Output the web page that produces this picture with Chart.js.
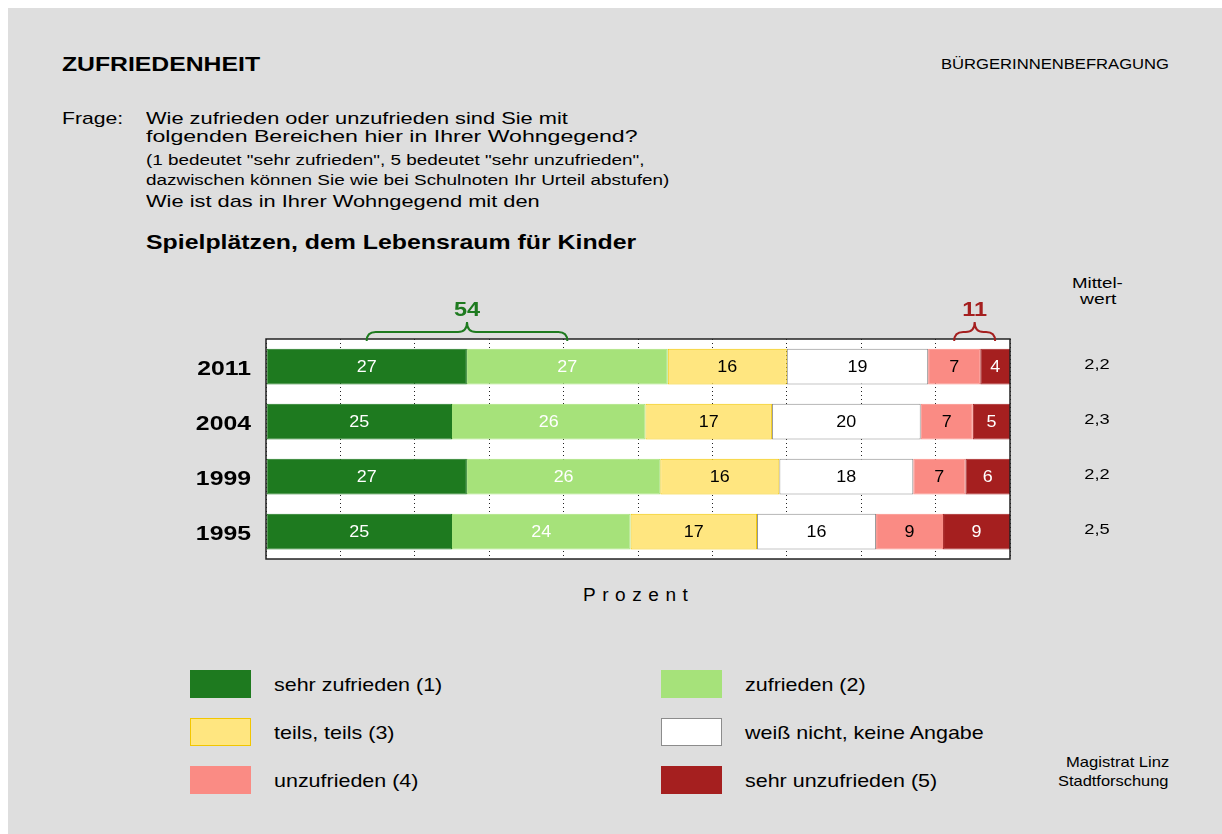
<!DOCTYPE html>
<html>
<head>
<meta charset="utf-8">
<script src="https://cdn.jsdelivr.net/npm/chart.js@4"></script>
<style>
  body { margin: 0; background: #fff; font-family: "Liberation Sans", Arial, sans-serif; color: #000; }
  #panel { position: absolute; left: 8px; top: 8px; width: 1214px; height: 826px; background: #dedede; }
  #wrap { position: absolute; left: 0; top: 0; width: 1222px; height: 834px; }
  .t { position: absolute; white-space: nowrap; line-height: 1; transform-origin: 0 0; }
  .box { position: absolute; width: 61px; height: 28px; box-sizing: border-box; }
</style>
</head>
<body>
<div id="panel"></div>
<!-- data-w: width of the text in the reference, text is stretched to it -->
<div class="t" data-w="198" style="left:62px;top:53px;font-size:21px;font-weight:bold">ZUFRIEDENHEIT</div>
<div class="t" data-w="228" style="left:941px;top:57px;font-size:14.5px">BÜRGERINNENBEFRAGUNG</div>
<div class="t" data-w="61" style="left:62px;top:110px;font-size:17px">Frage:</div>
<div class="t" data-w="422" style="left:146px;top:110px;font-size:17px">Wie zufrieden oder unzufrieden sind Sie mit</div>
<div class="t" data-w="492" style="left:146px;top:128px;font-size:17px">folgenden Bereichen hier in Ihrer Wohngegend?</div>
<div class="t" data-w="498" style="left:146px;top:153px;font-size:14px">(1 bedeutet "sehr zufrieden", 5 bedeutet "sehr unzufrieden",</div>
<div class="t" data-w="524" style="left:146px;top:173px;font-size:14px">dazwischen können Sie wie bei Schulnoten Ihr Urteil abstufen)</div>
<div class="t" data-w="394" style="left:146px;top:193px;font-size:17px">Wie ist das in Ihrer Wohngegend mit den</div>
<div class="t" data-w="490" style="left:146px;top:231px;font-size:21px;font-weight:bold">Spielplätzen, dem Lebensraum für Kinder</div>
<div class="t" data-w="51" style="left:1072px;top:275px;font-size:15px">Mittel-</div>
<div class="t" data-w="36" style="left:1080px;top:291px;font-size:15px">wert</div>
<div class="t" data-w="111" style="left:583px;top:587px;font-size:17.5px;letter-spacing:6px">Prozent</div>
<div class="t" data-w="103" style="left:1066px;top:755px;font-size:14.5px">Magistrat Linz</div>
<div class="t" data-w="111" style="left:1058px;top:774px;font-size:14.5px">Stadtforschung</div>
<div id="legend"></div>
<div id="wrap"><canvas id="chart" width="1222" height="834"></canvas></div>
<script>
const years = ['2011', '2004', '1999', '1995']
const sehrZufrieden = [27, 25, 27, 25]
const zufrieden = [27, 26, 26, 24]
const teilsTeils = [16, 17, 16, 17]
const weissNicht = [19, 20, 18, 16]
const unzufrieden = [7, 7, 7, 9]
const sehrUnzufrieden = [4, 5, 6, 9]
const mittelwert = ['2,2', '2,3', '2,2', '2,5']

const FONT = '"Liberation Sans", Arial, sans-serif'
const GREEN = '#1e7a1f'
const RED = '#a51f1f'
const STRETCH = 1.18 // the reference type is drawn a bit wide

const series = [
    { label: 'sehr zufrieden (1)', data: sehrZufrieden, bg: GREEN, border: GREEN, text: '#fff' },
    { label: 'zufrieden (2)', data: zufrieden, bg: '#a6e27a', border: '#a6e27a', text: '#fff' },
    { label: 'teils, teils (3)', data: teilsTeils, bg: '#ffe680', border: '#f2c600', text: '#000' },
    { label: 'weiß nicht, keine Angabe', data: weissNicht, bg: '#ffffff', border: '#8c8c8c', text: '#000' },
    { label: 'unzufrieden (4)', data: unzufrieden, bg: '#fa8b84', border: '#fa8b84', text: '#000' },
    { label: 'sehr unzufrieden (5)', data: sehrUnzufrieden, bg: RED, border: RED, text: '#fff' },
]

// legend, two columns, filled row by row
const legend = document.getElementById('legend')
series.forEach((s, i) => {
    const col = i % 2
    const row = Math.floor(i / 2)
    const top = 670 + row * 48
    const box = document.createElement('div')
    box.className = 'box'
    box.style.left = (col ? 661 : 190) + 'px'
    box.style.top = top + 'px'
    box.style.background = s.bg
    box.style.border = '1px solid ' + s.border
    legend.appendChild(box)
    const txt = document.createElement('div')
    txt.className = 't'
    txt.style.left = (col ? 745 : 274) + 'px'
    txt.style.top = (top + 5) + 'px'
    txt.style.fontSize = '19px'
    txt.style.transform = 'scaleX(1.13)'
    txt.textContent = s.label
    legend.appendChild(txt)
})

for (const el of document.querySelectorAll('.t[data-w]')) {
    el.style.transform = `scaleX(${el.dataset.w / el.offsetWidth})`
}

const wideText = (ctx, text, x, y, sx = STRETCH) => {
    ctx.save()
    ctx.translate(x, y)
    ctx.scale(sx, 1)
    ctx.fillText(text, 0, 0)
    ctx.restore()
}

const drawBrace = (ctx, x1, x2, top, color) => {
    const cx = (x1 + x2) / 2
    const r = 9
    ctx.save()
    ctx.strokeStyle = color
    ctx.lineWidth = 2
    ctx.beginPath()
    ctx.moveTo(x1, top + 2)
    ctx.quadraticCurveTo(x1, top - 7, x1 + r, top - 7)
    ctx.lineTo(cx - r, top - 7)
    ctx.quadraticCurveTo(cx, top - 7, cx, top - 17)
    ctx.quadraticCurveTo(cx, top - 7, cx + r, top - 7)
    ctx.lineTo(x2 - r, top - 7)
    ctx.quadraticCurveTo(x2, top - 7, x2, top + 2)
    ctx.stroke()
    ctx.restore()
}

const decorPlugin = {
    id: 'decor',
    beforeDraw(chart) {
        const { ctx, chartArea: a } = chart
        ctx.save()
        ctx.fillStyle = '#fff'
        ctx.fillRect(a.left, a.top, a.width, a.height)
        ctx.restore()
    },
    afterDatasetsDraw(chart) {
        const { ctx, chartArea: a } = chart
        const yScale = chart.scales.y
        ctx.save()
        ctx.font = '16px ' + FONT
        ctx.textAlign = 'center'
        ctx.textBaseline = 'middle'
        chart.data.datasets.forEach((ds, di) => {
            chart.getDatasetMeta(di).data.forEach((bar, i) => {
                const { x, base, y } = bar.getProps(['x', 'base', 'y'], true)
                ctx.fillStyle = series[di].text
                wideText(ctx, ds.data[i], (x + base) / 2, y + 1, 1.12)
            })
        })
        ctx.strokeStyle = '#222'
        ctx.lineWidth = 1.5
        ctx.strokeRect(a.left, a.top, a.width, a.height)

        // year labels left of the plot
        ctx.fillStyle = '#000'
        ctx.textAlign = 'right'
        ctx.font = 'bold 21px ' + FONT
        chart.data.labels.forEach((lab, i) => {
            wideText(ctx, lab, 251, yScale.getPixelForValue(i) + 3)
        })

        // Mittelwert column
        ctx.textAlign = 'center'
        ctx.font = '15.5px ' + FONT
        mittelwert.forEach((m, i) => {
            wideText(ctx, m, 1097, yScale.getPixelForValue(i) - 2)
        })

        // braces over 2011: satisfied (1+2) and dissatisfied (4+5)
        const centre = di => {
            const b = chart.getDatasetMeta(di).data[0].getProps(['x', 'base'], true)
            return (b.x + b.base) / 2
        }
        const groups = [[0, 1, GREEN], [4, 5, RED]]
        ctx.font = 'bold 21px ' + FONT
        for (const [d1, d2, color] of groups) {
            const x1 = centre(d1)
            const x2 = centre(d2)
            drawBrace(ctx, x1, x2, a.top, color)
            ctx.fillStyle = color
            wideText(ctx, series[d1].data[0] + series[d2].data[0], (x1 + x2) / 2, a.top - 29, 1.12)
        }
        ctx.restore()
    },
}

new Chart(document.getElementById('chart'), {
    type: 'bar',
    data: {
        labels: years,
        datasets: series.map(s => ({
            label: s.label,
            data: s.data,
            backgroundColor: s.bg,
            borderColor: s.border,
            borderWidth: 1,
            borderSkipped: false,
            categoryPercentage: 1,
            barPercentage: 0.65,
        })),
    },
    options: {
        indexAxis: 'y',
        responsive: false,
        animation: false,
        layout: { padding: { top: 339, right: 212, bottom: 275, left: 0 } },
        plugins: { legend: { display: false }, tooltip: { enabled: false } },
        scales: {
            x: {
                stacked: true,
                min: 0,
                max: 100,
                ticks: { display: false, stepSize: 10 },
                grid: { color: '#222', lineWidth: 1, drawTicks: false },
                border: { display: false, dash: [1, 3] },
                afterFit: s => { s.height = 0 },
            },
            y: {
                stacked: true,
                grid: { display: false, drawTicks: false },
                border: { display: false },
                ticks: { display: false },
                afterFit: s => { s.width = 266 },
            },
        },
    },
    plugins: [decorPlugin],
})
</script>
</body>
</html>
